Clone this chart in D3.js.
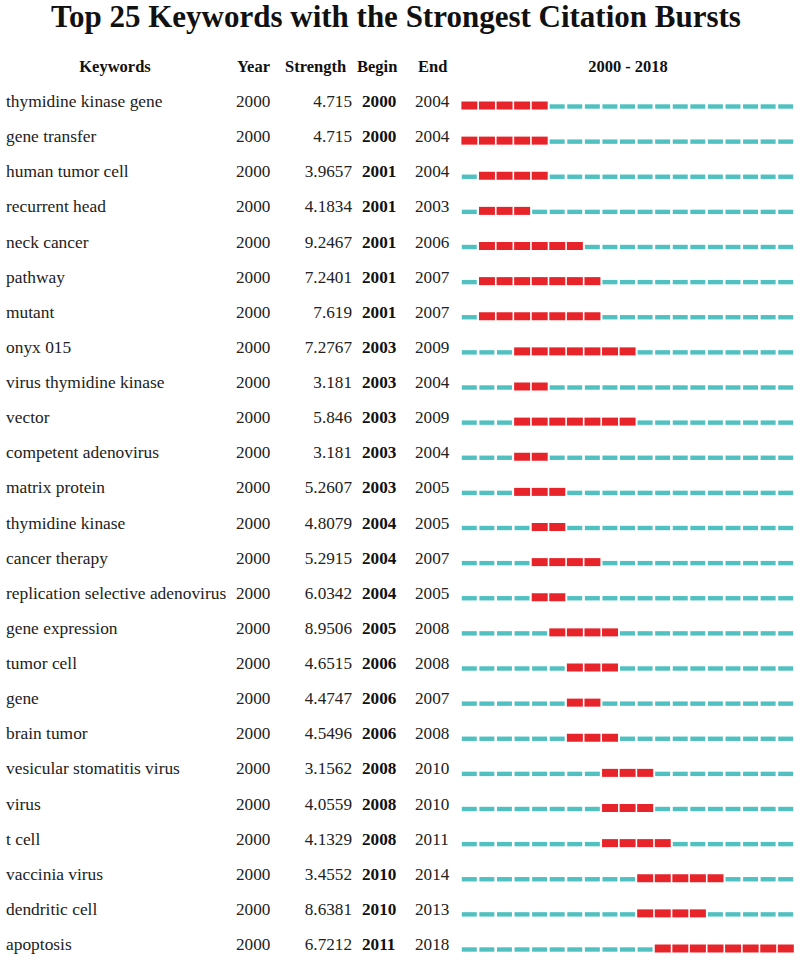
<!DOCTYPE html>
<html>
<head>
<meta charset="utf-8">
<script src="https://cdn.jsdelivr.net/npm/d3@7"></script>
<style>
  html, body { margin: 0; padding: 0; background: #fff; }
  svg { display: block; }
  text { font-family: "Liberation Serif", "Times New Roman", serif; fill: #222; }
</style>
</head>
<body>
<script>
const title = "Top 25 Keywords with the Strongest Citation Bursts";
const headers = ["Keywords", "Year", "Strength", "Begin", "End", "2000 - 2018"];
const keywords = [
  "thymidine kinase gene", "gene transfer", "human tumor cell", "recurrent head", "neck cancer",
  "pathway", "mutant", "onyx 015", "virus thymidine kinase", "vector",
  "competent adenovirus", "matrix protein", "thymidine kinase", "cancer therapy", "replication selective adenovirus",
  "gene expression", "tumor cell", "gene", "brain tumor", "vesicular stomatitis virus",
  "virus", "t cell", "vaccinia virus", "dendritic cell", "apoptosis"
];
const years = Array(25).fill(2000);
const strengths = [
  "4.715", "4.715", "3.9657", "4.1834", "9.2467",
  "7.2401", "7.619", "7.2767", "3.181", "5.846",
  "3.181", "5.2607", "4.8079", "5.2915", "6.0342",
  "8.9506", "4.6515", "4.4747", "4.5496", "3.1562",
  "4.0559", "4.1329", "3.4552", "8.6381", "6.7212"
];
const begins = [2000, 2000, 2001, 2001, 2001, 2001, 2001, 2003, 2003, 2003, 2003, 2003, 2004, 2004, 2004, 2005, 2006, 2006, 2006, 2008, 2008, 2008, 2010, 2010, 2011];
const ends   = [2004, 2004, 2004, 2003, 2006, 2007, 2007, 2009, 2004, 2009, 2004, 2005, 2005, 2007, 2005, 2008, 2008, 2007, 2008, 2010, 2010, 2011, 2014, 2013, 2018];
const rangeStart = 2000, rangeEnd = 2018;

const W = 800, H = 961;
const svg = d3.select("body").append("svg").attr("width", W).attr("height", H);

const rows = keywords.map((k, i) => ({k, year: years[i], s: strengths[i], b: begins[i], e: ends[i]}));
const y = d3.scalePoint().domain(d3.range(rows.length)).range([107, 950]);
const x = d3.scaleLinear().domain([rangeStart, rangeEnd + 1]).range([461, 795]);
const step = x(rangeStart + 1) - x(rangeStart);
const allYears = d3.range(rangeStart, rangeEnd + 1);

svg.append("text").attr("x", 396).attr("y", 27).attr("text-anchor", "middle")
  .style("font-size", "31px").style("font-weight", "bold").style("fill", "#111").text(title);

const headerX = [{x: 115, a: "middle"}, {x: 237, a: "start"}, {x: 285, a: "start"}, {x: 357, a: "start"}, {x: 418, a: "start"}, {x: 628, a: "middle"}];
svg.selectAll("text.hdr").data(headers).join("text").attr("class", "hdr")
  .attr("x", (d, i) => headerX[i].x).attr("y", 72).attr("text-anchor", (d, i) => headerX[i].a)
  .style("font-size", "16.5px").style("font-weight", "bold").style("fill", "#111").text(d => d);

const g = svg.selectAll("g.row").data(rows).join("g").attr("class", "row")
  .attr("transform", (d, i) => `translate(0,${y(i)})`);

g.append("text").attr("x", 6).style("font-size", "17.4px").text(d => d.k);
g.append("text").attr("x", 236).style("font-size", "17.2px").text(d => d.year);
g.append("text").attr("x", 352).attr("text-anchor", "end").style("font-size", "17.2px").text(d => d.s);
g.append("text").attr("x", 362).style("font-size", "17.2px").style("font-weight", "bold").style("fill", "#111").text(d => d.b);
g.append("text").attr("x", 415).style("font-size", "17.2px").text(d => d.e);

g.each(function(d) {
  const sel = d3.select(this);
  sel.selectAll("rect.seg").data(allYears).join("rect").attr("class", "seg")
    .attr("x", yr => (yr >= d.b && yr <= d.e) ? x(yr) + 0.4 : x(yr) + 0.8)
    .attr("width", yr => (yr >= d.b && yr <= d.e) ? step - 1.6 : step - 2.6)
    .attr("y", yr => (yr >= d.b && yr <= d.e) ? -5.5 : -2.7)
    .attr("height", yr => (yr >= d.b && yr <= d.e) ? 8 : 4.4)
    .attr("fill", yr => (yr >= d.b && yr <= d.e) ? "#e8242b" : "#50c0c0");
});
</script>
</body>
</html>
